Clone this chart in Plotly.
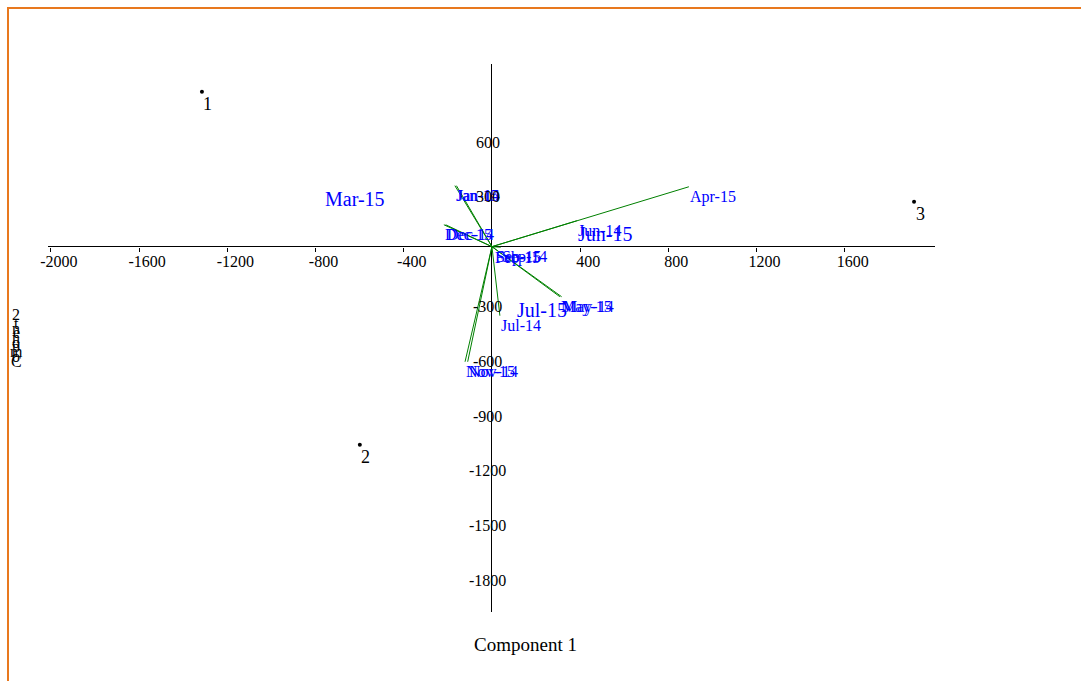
import plotly.graph_objects as go

# ---------------- data ----------------
obs_labels = ["1", "2", "3"]
obs_x = [-1315, -599, 1914]
obs_y = [848, -1084, 246]

var_labels = ["Jan-15", "Jan-14", "Dec-15", "Dec-14", "Feb-15", "Sep-15", "Sep-14",
              "Jun-14", "Apr-15", "May-15", "May-14", "Jul-14", "Nov-15", "Nov-14"]
var_x = [-168, -161, -218, -210, 9, 12, 40, 385, 893, 308, 316, 36, -122, -110]
var_y = [334, 334, 120, 120, -3, -3, -3, 142, 328, -274, -274, -378, -630, -630]

big_labels = ["Mar-15", "Jun-15", "Jul-15"]
big_x = [-766, 381, 104]
big_y = [263, 71, -345]

x_tick_vals = [-2000, -1600, -1200, -800, -400, 400, 800, 1200, 1600]
x_tick_text = ["-2000", "-1600", "-1200", "-800", "-400", "400", "800", "1200", "1600"]
y_tick_vals = [600, 300, -300, -600, -900, -1200, -1500, -1800]
y_tick_text = ["600", "300", "-300", "-600", "-900", "-1200", "-1500", "-1800"]

x_range = [-2013, 2009]
y_range = [-2000, 1000]

x_title = "Component 1"
y_title = "Component 2"

# ---------------- layout geometry ----------------
W, H = 1081, 681
ML, MR, MT, MB = 48, 146, 64, 69
PW, PH = W - ML - MR, H - MT - MB
FONT = "Liberation Serif"
BLUE = "#0000ff"


def px_to_paper_x(px):
    return (px - ML) / PW


def px_to_paper_y(py):
    return (H - MB - py) / PH


fig = go.Figure()

# loading vectors
lx, ly = [], []
for x, y in zip(var_x, var_y):
    lx += [0, x, None]
    ly += [0, y, None]
fig.add_trace(go.Scatter(x=lx, y=ly, mode="lines",
                         line=dict(color="#008000", width=1),
                         hoverinfo="skip", showlegend=False))

# observations
fig.add_trace(go.Scatter(x=obs_x, y=obs_y, mode="markers",
                         marker=dict(color="black", size=4),
                         showlegend=False))

annotations = []
# vector labels (top-left at the vector tip)
for x, y, t in zip(var_x, var_y, var_labels):
    annotations.append(dict(x=x, y=y, xref="x", yref="y", text=t, showarrow=False,
                            xanchor="left", yanchor="middle", xshift=-1, yshift=-10,
                            font=dict(family=FONT, size=16, color=BLUE)))
# large labels
for x, y, t in zip(big_x, big_y, big_labels):
    annotations.append(dict(x=x, y=y, xref="x", yref="y", text=t, showarrow=False,
                            xanchor="left", yanchor="middle",
                            font=dict(family=FONT, size=20, color=BLUE)))
# observation labels
for x, y, t in zip(obs_x, obs_y, obs_labels):
    annotations.append(dict(x=x, y=y, xref="x", yref="y", text=t, showarrow=False,
                            xanchor="center", yanchor="middle", xshift=6, yshift=-12,
                            font=dict(family=FONT, size=18, color="black")))
# y tick labels centred on the vertical axis
for v, t in zip(y_tick_vals, y_tick_text):
    annotations.append(dict(x=0, y=v, xref="x", yref="y", text=t, showarrow=False,
                            xanchor="center", yanchor="middle", xshift=-4, yshift=-5,
                            font=dict(family=FONT, size=16, color="black")))

# x title
annotations.append(dict(x=px_to_paper_x(525), y=px_to_paper_y(644), xref="paper", yref="paper",
                        text=x_title, showarrow=False, xanchor="center", yanchor="middle",
                        font=dict(family=FONT, size=19, color="black")))

# y title: glyphs collapsed on top of each other
chars = list(y_title)
step = 4.7
bottom = 361
for i, ch in enumerate(chars):
    if ch == " ":
        continue
    annotations.append(dict(x=px_to_paper_x(16), y=px_to_paper_y(bottom - i * step),
                            xref="paper", yref="paper", text=ch, showarrow=False,
                            xanchor="center", yanchor="middle",
                            font=dict(family=FONT, size=16, color="black")))

fig.update_layout(
    width=W, height=H,
    margin=dict(l=ML, r=MR, t=MT, b=MB, pad=0),
    paper_bgcolor="white", plot_bgcolor="white",
    showlegend=False, hovermode=False,
    font=dict(family=FONT, size=16, color="black"),
    xaxis=dict(range=x_range, showgrid=False, zeroline=True, zerolinecolor="black",
               zerolinewidth=1, showline=False, anchor="free",
               position=(0 - y_range[0]) / (y_range[1] - y_range[0]),
               ticks="outside", ticklen=4, tickcolor="black", tickwidth=1,
               tickvals=x_tick_vals, ticktext=x_tick_text,
               ticklabelshift=8, ticklabelstandoff=-4,
               tickfont=dict(family=FONT, size=16, color="black")),
    yaxis=dict(range=y_range, showgrid=False, zeroline=True, zerolinecolor="black",
               zerolinewidth=1, showline=False, showticklabels=False, ticks=""),
    annotations=annotations,
    shapes=[dict(type="rect", xref="paper", yref="paper",
                 x0=px_to_paper_x(8), x1=px_to_paper_x(1300),
                 y0=px_to_paper_y(900), y1=px_to_paper_y(8),
                 line=dict(color="#e8781e", width=2), fillcolor="rgba(0,0,0,0)",
                 layer="below")],
)

fig.write_html("out.html")
